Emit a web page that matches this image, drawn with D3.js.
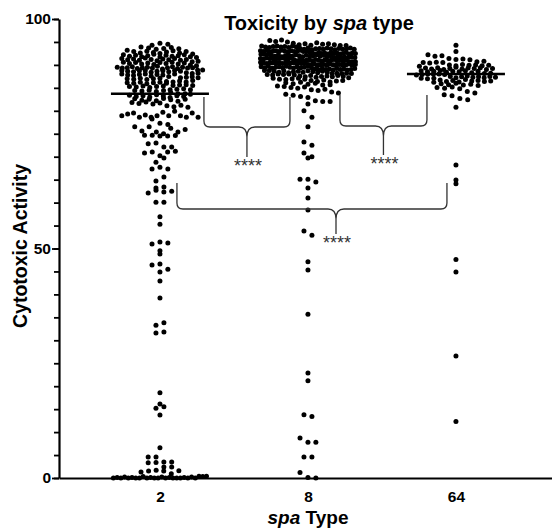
<!DOCTYPE html>
<html>
<head>
<meta charset="utf-8">
<script src="https://cdn.jsdelivr.net/npm/d3@7"></script>
<style>
  body { margin: 0; background: #fff; }
  svg { display: block; font-family: Arial, "Liberation Sans", Helvetica, sans-serif; }
</style>
</head>
<body>
<div id="chart"></div>
<script>
// spa types on the x axis
const categories = ["2", "8", "64"];

// cytotoxic activity per isolate
const spa2 = [
  94.3, 94.7, 94.5,
  93.9, 93.7, 93.4, 93.6, 93.2, 93.8, 93.5,
  92.9, 92.6, 93.0, 92.7, 92.5, 92.8, 93.1, 92.6, 92.9, 92.4,
  92.2, 91.9, 92.1, 91.8, 92.0, 92.3, 91.7, 92.1, 91.9, 92.0, 92.2, 91.8,
  91.4, 91.1, 91.3, 91.0, 91.5, 91.2, 90.9, 91.3, 91.1, 91.4, 91.0, 91.2, 91.6,
  90.6, 90.3, 90.5, 90.2, 90.7, 90.4, 90.1, 90.5, 90.3, 90.6, 90.2, 90.4, 90.8, 90.0,
  89.5, 89.3, 89.4, 89.6, 89.2, 89.4, 89.5, 89.3, 89.7, 89.1, 89.4, 89.6, 89.2, 89.5, 89.3, 89.4, 89.8,
  88.8, 88.6, 88.9, 88.5, 88.7, 88.8, 88.4, 88.6, 88.9, 88.7, 88.5, 88.8, 88.6, 88.3,
  88.0, 87.8, 88.1, 87.7, 87.9, 88.0, 87.6, 87.9, 88.2, 87.8, 87.5, 88.0,
  87.2, 87.0, 87.3, 86.9, 87.1, 87.4, 86.8, 87.2, 87.0, 87.1,
  86.4, 86.1, 86.3, 86.0, 86.5, 86.2, 85.9, 86.3, 86.1, 86.6, 86.2, 86.0,
  85.5, 85.3, 85.6, 85.2, 85.4, 85.7, 85.1, 85.5, 85.3, 85.4,
  84.6, 84.4, 84.7, 84.3, 84.5, 84.8, 84.2, 84.6, 84.4, 84.0,
  83.7, 83.7,
  83.4, 83.1, 83.3, 83.0, 83.5, 83.2, 82.9, 83.3, 83.1, 83.6,
  82.6, 82.3, 82.5, 82.2, 82.7, 82.4, 82.1, 82.5,
  81.8, 81.6, 81.9, 81.5, 81.7,
  81.1, 80.9, 81.2, 80.8,
  78.9, 79.3, 79.5, 78.6, 79.1, 78.6, 78.9, 79.7, 78.9, 78.2, 79.9, 78.9, 78.6, 79.5, 78.6,
  76.5, 75.6, 74.7, 76.5, 74.7, 75.4, 74.5, 75.0, 77.3, 76.2, 75.4, 74.5, 77.0, 75.9, 74.6,
  72.8, 70.8, 73.0, 72.1, 71.0, 70.2, 68.8, 72.1, 71.0, 69.7, 71.2,
  67.3, 67.7, 67.3, 64.7, 65.6, 63.2, 62.1, 62.7, 63.4, 62.3, 62.5, 60.1, 60.1, 56.9, 55.3,
  51.0, 51.4, 51.2, 48.8, 49.5, 46.4, 46.6, 44.9, 45.5, 42.9, 39.2, 33.3, 33.8, 31.6, 31.8,
  18.6, 16.1, 15.2, 15.5, 13.7,
  6.6, 4.6, 4.6, 3.5, 3.3, 3.5, 3.4, 2.4, 2.4, 1.3, 1.5, 1.7, 1.5, 0.9, 1.6,
  0.0, 0.1, 0.0, 0.2, 0.0, 0.1, 0.0, 0.0, 0.3, 0.0, 0.1, 0.0, 0.0, 0.2, 0.0, 0.1,
  0.0, 0.0, 0.0, 0.1, 0.0, 0.2, 0.0, 0.4, 0.3, 0.4
];

const spa8 = [
  95.3, 95.1, 95.4, 95.0,
  94.7, 94.4, 94.6, 94.3, 94.8, 94.5, 94.6, 94.4,
  94.1, 93.9, 94.2, 93.8, 94.0, 94.1, 93.9, 94.2, 94.0, 93.8, 94.1, 93.9,
  93.6, 93.4, 93.7, 93.3, 93.5, 93.6, 93.4, 93.7, 93.5, 93.3, 93.6, 93.4, 93.5, 93.7, 93.4,
  93.1, 92.9, 93.2, 92.8, 93.0, 93.1, 92.9, 93.2, 93.0, 92.8, 93.1, 92.9, 93.0, 93.2, 92.9, 93.1, 92.8,
  92.6, 92.4, 92.7, 92.3, 92.5, 92.6, 92.4, 92.7, 92.5, 92.3, 92.6, 92.4, 92.5, 92.7, 92.4, 92.6, 92.3, 92.5,
  92.1, 91.9, 92.2, 91.8, 92.0, 92.1, 91.9, 92.2, 92.0, 91.8, 92.1, 91.9, 92.0, 92.2, 91.9, 92.1, 91.8, 92.0,
  91.6, 91.4, 91.7, 91.3, 91.5, 91.6, 91.4, 91.7, 91.5, 91.3, 91.6, 91.4, 91.5, 91.7, 91.4, 91.6, 91.3, 91.5,
  91.1, 90.9, 91.2, 90.8, 91.0, 91.1, 90.9, 91.2, 91.0, 90.8, 91.1, 90.9, 91.0, 91.2, 90.9, 91.1, 90.8, 91.0,
  90.6, 90.4, 90.7, 90.3, 90.5, 90.6, 90.4, 90.7, 90.5, 90.3, 90.6, 90.4, 90.5, 90.7, 90.4, 90.6, 90.3, 90.5,
  90.1, 89.9, 90.2, 89.8, 90.0, 90.1, 89.9, 90.2, 90.0, 89.8, 90.1, 89.9, 90.0, 90.2, 89.9, 90.1,
  89.6, 89.4, 89.7, 89.3, 89.5, 89.6, 89.4, 89.7, 89.5, 89.3, 89.6, 89.4, 89.5, 89.7, 89.4,
  89.1, 88.9, 89.2, 88.8, 89.0, 89.1, 88.9, 89.2, 89.0, 88.8, 89.1, 88.9, 89.0, 89.2,
  88.6, 88.4, 88.7, 88.3, 88.5, 88.6, 88.4, 88.7, 88.5, 88.3, 88.6, 88.4,
  88.1, 87.9, 88.2, 87.8, 88.0, 88.1, 87.9, 88.2, 88.0, 87.8, 88.1,
  87.6, 87.4, 87.7, 87.3, 87.5, 87.6, 87.4, 87.7, 87.5,
  87.1, 86.9, 87.2, 86.8, 87.0, 87.1, 86.9,
  86.6, 86.4, 86.7, 86.3, 86.5, 86.6,
  86.1, 85.9, 86.2, 85.8, 86.0,
  85.6, 85.4, 85.7, 85.3,
  85.1, 84.9, 85.2,
  84.6, 84.4, 84.7,
  84.1, 83.9,
  83.6, 83.4,
  83.1, 82.9,
  82.2, 82.0, 82.0, 81.5, 80.0, 78.6, 76.5, 73.2, 72.5, 70.8, 70.0, 69.7,
  65.1, 65.1, 64.5, 63.2, 61.0, 58.4, 53.8, 52.9, 47.1, 45.3, 35.7,
  22.9, 21.2, 13.8, 13.4, 8.7, 7.8, 7.8, 4.6, 4.6, 1.2, 0.1, 0.0
];

const spa64 = [
  94.3, 92.9,
  92.2, 91.9, 92.0,
  91.4, 91.2, 91.3, 91.1,
  90.7, 90.5, 90.8, 90.4, 90.6, 90.5,
  90.0, 89.8, 90.1, 89.7, 89.9, 90.0, 89.8, 89.9,
  89.3, 89.1, 89.4, 89.0, 89.2, 89.5, 89.1, 89.3, 89.2, 89.4, 89.0, 89.2,
  88.7, 88.5, 88.6, 88.8, 88.4, 88.6, 88.5, 88.7, 88.3, 88.6,
  87.8, 87.9, 88.0, 88.0, 88.0, 88.1, 88.2, 87.9,
  87.5, 87.2, 87.4, 87.1, 87.6, 87.3, 87.0, 87.4, 87.2, 87.5, 87.3, 87.1,
  86.7, 86.4, 86.6, 86.3, 86.8, 86.5, 86.2, 86.6, 86.4, 86.5,
  85.9, 85.7, 86.0, 85.6, 85.8, 85.5,
  85.1, 84.9, 85.2, 84.8,
  84.2, 83.9, 83.5, 83.3, 82.7, 82.4, 80.8,
  68.2, 64.9, 64.1, 47.6, 44.9, 26.6, 12.3
];

const groupValues = [spa2, spa8, spa64];

const yMajorTicks = [0, 50, 100];
const yMinorTicks = d3.range(0, 101, 5);

// pairwise comparisons shown with braces
const comparisons = [
  { from: 0, to: 1, label: "****" },
  { from: 1, to: 2, label: "****" },
  { from: 0, to: 2, label: "****" }
];

const svgWidth = 552;
const svgHeight = 528;

const svg = d3.select("#chart")
  .append("svg")
  .attr("width", svgWidth)
  .attr("height", svgHeight);

const x = d3.scaleLinear()
  .domain([-0.682, 2.649])
  .range([59, 552]);

const y = d3.scaleLinear()
  .domain([0, 100])
  .range([478, 19]);

const dotR = 2.5;
const coarseH = 8;     // row height where dots are sparse, px
const fineH = 4;       // row height where dots are crowded, px
const crowded = 16;
const gap = 8;         // spacing of dots in a sparse row, px
const halfWidth = 48;  // widest a row may get

function spreadRow(row) {
  const n = row.length;
  if (n < 2) return;
  const w = halfWidth * Math.tanh((n - 1) * gap / 2 / halfWidth);
  const s = 2 * w / (n - 1);
  row.forEach((p, i) => { p.x = (i - (n - 1) / 2) * s; });
}

// scatter-dot layout: points in one row spread out from the centre
function rowLayout(values) {
  const pts = values.map(v => ({ v: v, y: y(v), x: 0 }));
  const rise = p => y(0) - p.y;
  d3.group(pts, p => Math.floor(rise(p) / coarseH)).forEach(g => {
    if (g.length > crowded) {
      d3.group(g, p => Math.floor(rise(p) / fineH)).forEach(spreadRow);
    } else {
      spreadRow(g);
    }
  });
  return pts;
}

// dots
groupValues.forEach((vals, i) => {
  svg.append("g")
    .selectAll("circle")
    .data(rowLayout(vals))
    .enter()
    .append("circle")
    .attr("cx", d => x(i) + d.x)
    .attr("cy", d => d.y)
    .attr("r", dotR)
    .attr("fill", "#000");
});

// median lines
svg.append("g")
  .selectAll("line")
  .data(groupValues)
  .enter()
  .append("line")
  .attr("x1", (d, i) => x(i) - 49)
  .attr("x2", (d, i) => x(i) + 49)
  .attr("y1", d => y(d3.median(d)))
  .attr("y2", d => y(d3.median(d)))
  .attr("stroke", "#000")
  .attr("stroke-width", 2.5);

// axes
const yAxis = svg.append("g")
  .attr("transform", "translate(59,0)")
  .call(d3.axisLeft(y).tickValues(yMinorTicks).tickSize(5).tickSizeOuter(0).tickFormat(""));
yAxis.select(".domain").attr("stroke-width", 2.2);
yAxis.selectAll(".tick line").attr("stroke-width", 1.8);

const yMajor = svg.append("g")
  .attr("transform", "translate(59,0)")
  .call(d3.axisLeft(y).tickValues(yMajorTicks).tickSize(7).tickSizeOuter(0).tickPadding(1));
yMajor.select(".domain").remove();
yMajor.selectAll(".tick line").attr("stroke-width", 1.8);
yMajor.selectAll("text")
  .attr("font-size", 15.5)
  .attr("font-weight", "bold")
  .attr("font-family", "Arial, 'Liberation Sans', sans-serif")
  .attr("fill", "#000");

const xAxis = svg.append("g")
  .attr("transform", "translate(0,478)")
  .call(d3.axisBottom(x).tickValues([0, 1, 2]).tickSize(0).tickSizeOuter(0)
    .tickPadding(13).tickFormat(i => categories[i]));
xAxis.select(".domain").attr("stroke-width", 2.2);
xAxis.selectAll("text")
  .attr("font-size", 15.5)
  .attr("font-weight", "bold")
  .attr("font-family", "Arial, 'Liberation Sans', sans-serif")
  .attr("fill", "#000");

// braces
const braceLayout = [
  { x1: x(0) + 44, x2: x(1) - 18, xm: (x(0) + 44 + x(1) - 18) / 2, top: 97, h: 127, tip: 157 },
  { x1: x(1) + 32, x2: x(2) - 29, xm: (x(1) + 32 + x(2) - 29) / 2, top: 95, h: 126, tip: 155 },
  { x1: x(0) + 17, x2: x(2) - 9, xm: 336, top: 183, h: 209, tip: 234 }
];

const braceG = svg.append("g");
comparisons.forEach((c, i) => {
  const b = braceLayout[i];
  const r = 6;
  const path = d3.path();
  path.moveTo(b.x1, b.top);
  path.lineTo(b.x1, b.h - r);
  path.quadraticCurveTo(b.x1, b.h, b.x1 + r, b.h);
  path.lineTo(b.xm - 8, b.h);
  path.quadraticCurveTo(b.xm, b.h, b.xm, b.h + 10);
  path.lineTo(b.xm, b.tip);
  path.moveTo(b.xm, b.h + 10);
  path.quadraticCurveTo(b.xm, b.h, b.xm + 8, b.h);
  path.lineTo(b.x2 - r, b.h);
  path.quadraticCurveTo(b.x2, b.h, b.x2, b.h - r);
  path.lineTo(b.x2, b.top);
  braceG.append("path")
    .attr("d", path.toString())
    .attr("fill", "none")
    .attr("stroke", "#333")
    .attr("stroke-width", 1.3);
  braceG.append("text")
    .attr("x", b.xm + 1)
    .attr("y", b.tip + 15)
    .attr("text-anchor", "middle")
    .attr("font-size", 18)
    .attr("fill", "#333")
    .text(c.label);
});

// title
const title = svg.append("text")
  .attr("x", 319)
  .attr("y", 30)
  .attr("text-anchor", "middle")
  .attr("font-size", 20)
  .attr("font-weight", "bold");
title.append("tspan").text("Toxicity by ");
title.append("tspan").attr("font-style", "italic").text("spa");
title.append("tspan").text(" type");

// axis labels
const xLabel = svg.append("text")
  .attr("x", 308)
  .attr("y", 524)
  .attr("text-anchor", "middle")
  .attr("font-size", 19)
  .attr("font-weight", "bold");
xLabel.append("tspan").attr("font-style", "italic").text("spa");
xLabel.append("tspan").text(" Type");

svg.append("text")
  .attr("transform", "translate(27,246) rotate(-90)")
  .attr("text-anchor", "middle")
  .attr("font-size", 19.5)
  .attr("font-weight", "bold")
  .text("Cytotoxic Activity");
</script>
</body>
</html>
